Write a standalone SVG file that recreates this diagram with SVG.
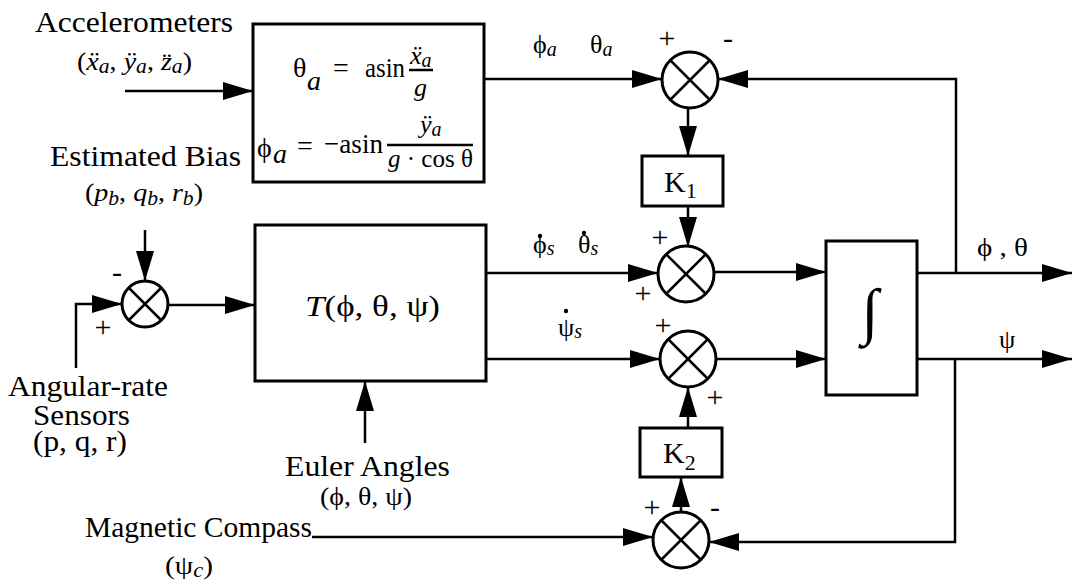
<svg xmlns="http://www.w3.org/2000/svg" width="1072" height="586" viewBox="0 0 1072 586">
<style>
.t{font-family:"Liberation Serif","Times New Roman",serif;font-size:30px;fill:#000}
.e{font-family:"Liberation Serif","Times New Roman",serif;font-size:28px;fill:#000}
.m{font-family:"Liberation Serif","Times New Roman",serif;font-size:26px;fill:#000}
.s{font-family:"Liberation Serif","Times New Roman",serif;font-size:30px;fill:#000}
.big{font-family:"Liberation Serif","Times New Roman",serif;font-size:62px;fill:#000}
.i{font-style:italic}
.box{fill:none;stroke:#000;stroke-width:3}
.sum{fill:#fff;stroke:#000;stroke-width:3}
.ln{fill:none;stroke:#000;stroke-width:2.5}
.ar{fill:none;stroke:#000;stroke-width:2.5;marker-end:url(#ah)}
.dot{fill:#000}
</style>
<defs>
<marker id="ah" markerUnits="userSpaceOnUse" markerWidth="30" markerHeight="18" refX="30" refY="9" orient="auto" viewBox="0 0 30 18">
<path d="M0,0 L30,9 L0,18 z" fill="#000"/>
</marker>
</defs>
<rect width="1072" height="586" fill="#fff"/>

<g id="connectors">
<line class="ar" x1="125" y1="91" x2="253" y2="91"/>
<line class="ar" x1="484" y1="79" x2="662" y2="79"/>
<polyline class="ar" points="956,273 956,79 718,79"/>
<line class="ar" x1="688" y1="107" x2="688" y2="156"/>
<line class="ar" x1="688" y1="206" x2="688" y2="247"/>
<line class="ar" x1="486" y1="273" x2="658" y2="273"/>
<line class="ar" x1="714" y1="272" x2="826" y2="272"/>
<line class="ar" x1="486" y1="359" x2="660" y2="359"/>
<line class="ar" x1="716" y1="359" x2="826" y2="359"/>
<line class="ar" x1="688" y1="428" x2="688" y2="387"/>
<line class="ar" x1="681" y1="513" x2="681" y2="477"/>
<line class="ar" x1="312" y1="537" x2="653" y2="537"/>
<polyline class="ar" points="955,359 955,542 709,542"/>
<line class="ar" x1="917" y1="273" x2="1072" y2="273"/>
<line class="ar" x1="917" y1="359" x2="1072" y2="359"/>
<line class="ar" x1="145" y1="230" x2="145" y2="281"/>
<polyline class="ar" points="76,368 76,304 122,304"/>
<line class="ar" x1="168" y1="305" x2="255" y2="305"/>
<line class="ar" x1="365" y1="443" x2="365" y2="381"/>
</g>

<g id="accel-block">
<rect class="box" x="253" y="24" width="231" height="158"/>
<text class="e" x="293" y="77">θ</text>
<text class="e i" x="307" y="90">a</text>
<text class="e" x="333" y="77">=</text>
<text class="e" x="365" y="77" textLength="40" lengthAdjust="spacingAndGlyphs">asin</text>
<text class="m i" x="410" y="64">ẍ<tspan font-size="20" dy="3">a</tspan></text>
<line class="ln" x1="409" y1="70" x2="433" y2="70" stroke-width="1.5"/>
<text class="m i" x="414" y="96">g</text>
<text class="e" x="257" y="157">ϕ</text>
<text class="e i" x="273" y="163">a</text>
<text class="e" x="297" y="155">=</text>
<text class="e" x="324" y="153" textLength="59" lengthAdjust="spacingAndGlyphs">−asin</text>
<text class="m i" x="420" y="133">ÿ<tspan font-size="20" dy="3">a</tspan></text>
<line class="ln" x1="387" y1="145" x2="473" y2="145" stroke-width="1.5"/>
<text class="m" x="388" y="167" textLength="85" lengthAdjust="spacingAndGlyphs"><tspan class="i">g</tspan> · cos θ</text>
</g>

<g id="sum1">
<circle class="sum" cx="690" cy="80" r="28"/>
<line class="ln" x1="670" y1="60" x2="710" y2="100"/>
<line class="ln" x1="710" y1="60" x2="670" y2="100"/>
</g>

<g id="k1">
<rect class="box" x="642" y="156" width="81" height="50"/>
<text class="t" x="664" y="192">K<tspan font-size="22" dy="6">1</tspan></text>
</g>

<g id="sum2">
<circle class="sum" cx="686" cy="274" r="28"/>
<line class="ln" x1="666" y1="254" x2="706" y2="294"/>
<line class="ln" x1="706" y1="254" x2="666" y2="294"/>
</g>

<g id="sum3">
<circle class="sum" cx="688" cy="359" r="28"/>
<line class="ln" x1="668" y1="339" x2="708" y2="379"/>
<line class="ln" x1="708" y1="339" x2="668" y2="379"/>
</g>

<g id="k2">
<rect class="box" x="640" y="428" width="82" height="49"/>
<text class="t" x="663" y="463">K<tspan font-size="22" dy="7">2</tspan></text>
</g>

<g id="sum4">
<circle class="sum" cx="681" cy="540" r="28"/>
<line class="ln" x1="661" y1="520" x2="701" y2="560"/>
<line class="ln" x1="701" y1="520" x2="661" y2="560"/>
</g>

<g id="sumbias">
<circle class="sum" cx="145" cy="304" r="23"/>
<line class="ln" x1="129" y1="288" x2="161" y2="320"/>
<line class="ln" x1="161" y1="288" x2="129" y2="320"/>
</g>

<g id="t-block">
<rect class="box" x="255" y="225" width="231" height="156"/>
<text class="t" x="305" y="316" textLength="135" lengthAdjust="spacingAndGlyphs"><tspan class="i">T</tspan>(ϕ, θ, ψ)</text>
</g>

<g id="integrator">
<rect class="box" x="826" y="241" width="91" height="154"/>
<text class="big" x="870" y="332" text-anchor="middle">∫</text>
</g>

<g id="labels">
<text class="t" x="35" y="32" textLength="198" lengthAdjust="spacingAndGlyphs">Accelerometers</text>
<text class="m" x="77" y="70" textLength="115" lengthAdjust="spacingAndGlyphs">(<tspan class="i">ẍ</tspan><tspan class="i" font-size="20" dy="3">a</tspan><tspan dy="-3">, </tspan><tspan class="i">ÿ</tspan><tspan class="i" font-size="20" dy="3">a</tspan><tspan dy="-3">, </tspan><tspan class="i">z̈</tspan><tspan class="i" font-size="20" dy="3">a</tspan><tspan dy="-3">)</tspan></text>
<text class="t" x="50" y="166" textLength="191" lengthAdjust="spacingAndGlyphs">Estimated Bias</text>
<text class="m" x="85" y="201" textLength="118" lengthAdjust="spacingAndGlyphs">(<tspan class="i">p</tspan><tspan class="i" font-size="20" dy="4">b</tspan><tspan dy="-4">, </tspan><tspan class="i">q</tspan><tspan class="i" font-size="20" dy="4">b</tspan><tspan dy="-4">, </tspan><tspan class="i">r</tspan><tspan class="i" font-size="20" dy="4">b</tspan><tspan dy="-4">)</tspan></text>
<text class="t" x="8" y="396" textLength="160" lengthAdjust="spacingAndGlyphs">Angular-rate</text>
<text class="t" x="33" y="425" textLength="97" lengthAdjust="spacingAndGlyphs">Sensors</text>
<text class="t" x="33" y="451" textLength="94" lengthAdjust="spacingAndGlyphs">(p, q, r)</text>
<text class="t" x="285" y="476" textLength="165" lengthAdjust="spacingAndGlyphs">Euler Angles</text>
<text class="m" x="320" y="505" textLength="92" lengthAdjust="spacingAndGlyphs">(ϕ, θ, ψ)</text>
<text class="t" x="85" y="537" textLength="227" lengthAdjust="spacingAndGlyphs">Magnetic Compass</text>
<text class="m" x="165" y="574" textLength="48" lengthAdjust="spacingAndGlyphs">(ψ<tspan font-size="20" class="i" dy="3">c</tspan><tspan dy="-3">)</tspan></text>
<text class="m" x="533" y="53">ϕ<tspan class="i" font-size="20" dy="3">a</tspan></text>
<text class="m" x="590" y="53">θ<tspan class="i" font-size="20" dy="3">a</tspan></text>
<text class="s" x="667" y="48" text-anchor="middle">+</text>
<text class="s" x="728" y="48" text-anchor="middle">-</text>
<text class="s" x="117" y="282" text-anchor="middle">-</text>
<text class="s" x="103" y="337" text-anchor="middle">+</text>
<text class="m" x="533" y="253">ϕ<tspan class="i" font-size="20" dy="2">s</tspan></text>
<circle class="dot" cx="540" cy="236" r="2.2"/>
<text class="m" x="578" y="253">θ<tspan class="i" font-size="20" dy="2">s</tspan></text>
<circle class="dot" cx="584" cy="233" r="2.2"/>
<text class="s" x="660" y="247" text-anchor="middle">+</text>
<text class="s" x="643" y="303" text-anchor="middle">+</text>
<text class="m" x="558" y="336">ψ<tspan class="i" font-size="20" dy="2">s</tspan></text>
<circle class="dot" cx="566" cy="311" r="2.2"/>
<text class="s" x="663" y="335" text-anchor="middle">+</text>
<text class="s" x="715" y="407" text-anchor="middle">+</text>
<text class="s" x="652" y="517" text-anchor="middle">+</text>
<text class="s" x="715" y="517" text-anchor="middle">-</text>
<text class="m" x="977" y="256" textLength="51" lengthAdjust="spacingAndGlyphs">ϕ , θ</text>
<text class="m" x="999" y="348">ψ</text>
</g>
</svg>
